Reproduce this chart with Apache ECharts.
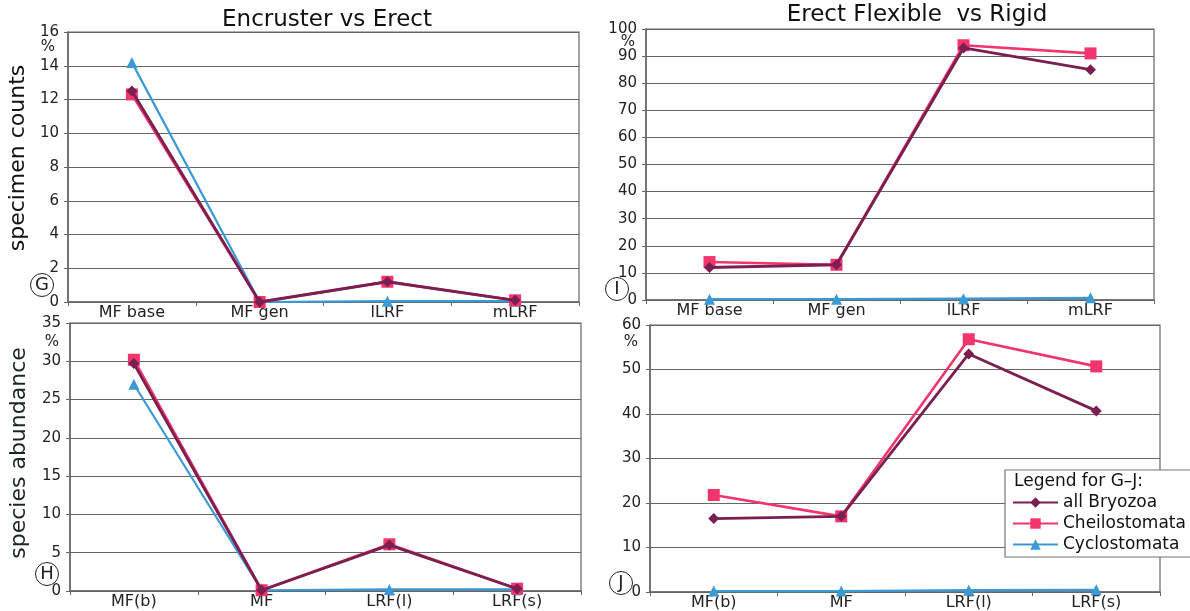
<!DOCTYPE html>
<html>
<head>
<meta charset="utf-8">
<script src="https://cdn.jsdelivr.net/npm/echarts@6/dist/echarts.min.js"></script>
<style>
  html, body { margin: 0; padding: 0; background: #fff; }
  #chart { width: 1190px; height: 611px; }
</style>
</head>
<body>
<div id="chart"></div>
<script>
// Growth-form categories (specimen counts on top, species abundance below)
const catsCounts = ['MF base', 'MF gen', 'lLRF', 'mLRF'];
const catsSpecies = ['MF(b)', 'MF', 'LRF(l)', 'LRF(s)'];

const seriesNames = ['all Bryozoa', 'Cheilostomata', 'Cyclostomata'];

// G: Encruster vs Erect, specimen counts (%)
const gBryozoa = [12.5, 0, 1.2, 0.1];
const gCheilo = [12.3, 0, 1.2, 0.1];
const gCyclo = [14.2, 0, 0.05, 0.05];

// I: Erect Flexible vs Rigid, specimen counts (%)
const iBryozoa = [12, 13, 93, 85];
const iCheilo = [14, 13, 94, 91];
const iCyclo = [0.3, 0.3, 0.5, 0.8];

// H: Encruster vs Erect, species abundance (%)
const hBryozoa = [29.7, 0.1, 6, 0.3];
const hCheilo = [30.2, 0.1, 6.1, 0.3];
const hCyclo = [27, 0.1, 0.2, 0.2];

// J: Erect Flexible vs Rigid, species abundance (%)
const jBryozoa = [16.5, 17, 53.5, 40.7];
const jCheilo = [21.8, 17, 56.8, 50.7];
const jCyclo = [0.2, 0.2, 0.4, 0.5];

// y-axis ranges per panel
const yG = { max: 16, step: 2 };
const yI = { max: 100, step: 10 };
const yH = { max: 35, step: 5 };
const yJ = { max: 60, step: 10 };

const colors = { bry: '#7a1f4f', che: '#f2356d', cyc: '#3a9ad6' };
const FONT = 'DejaVu Sans';

const grids = [
  { left: 68, top: 32, width: 511, height: 270 },
  { left: 646, top: 29, width: 508, height: 271 },
  { left: 70, top: 323, width: 511, height: 268 },
  { left: 650, top: 325, width: 510, height: 268 }
];

function xAxis(idx, cats) {
  return {
    type: 'category', gridIndex: idx, data: cats, boundaryGap: true,
    axisLine: { lineStyle: { color: '#666', width: 1.5 } },
    axisTick: { show: true, length: 4, lineStyle: { color: '#666' } },
    axisLabel: { color: '#222', fontFamily: FONT, fontSize: 16, margin: 3 }
  };
}
function yAxis(idx, r) {
  return {
    type: 'value', gridIndex: idx, min: 0, max: r.max, interval: r.step,
    axisLine: { show: true, lineStyle: { color: '#666', width: 1.5 } },
    axisTick: { show: true, length: 4, lineStyle: { color: '#666' } },
    axisLabel: { color: '#222', fontFamily: FONT, fontSize: 15, margin: 9 },
    splitLine: { show: true, lineStyle: { color: '#666', width: 1.2 } }
  };
}
function line(name, idx, data, color, symbol, width, z) {
  return {
    type: 'line', name, xAxisIndex: idx, yAxisIndex: idx, data,
    symbol, symbolSize: symbol === 'rect' ? 12 : 11,
    lineStyle: { color, width },
    itemStyle: { color },
    z, animation: false
  };
}
const panels = [
  [gBryozoa, gCheilo, gCyclo],
  [iBryozoa, iCheilo, iCyclo],
  [hBryozoa, hCheilo, hCyclo],
  [jBryozoa, jCheilo, jCyclo]
];
const series = [];
panels.forEach((p, i) => {
  series.push(line(seriesNames[2], i, p[2], colors.cyc, 'triangle', 2.2, 2));
  series.push(line(seriesNames[1], i, p[1], colors.che, 'rect', 2.6, 3));
  series.push(line(seriesNames[0], i, p[0], colors.bry, 'diamond', 2.8, 4));
});

function circled(letter, x, y) {
  return [
    { type: 'circle', shape: { cx: x, cy: y, r: 11.5 }, style: { fill: 'none', stroke: '#222', lineWidth: 1 }, z: 100 },
    { type: 'text', x: x, y: y, style: { text: letter, fill: '#222', font: '18px ' + FONT, align: 'center', verticalAlign: 'middle' }, z: 100 }
  ];
}
function pct(x, y) {
  return { type: 'text', x, y, style: { text: '%', fill: '#222', font: '15px ' + FONT, align: 'center', verticalAlign: 'middle' }, z: 100 };
}

const option = {
  backgroundColor: '#fff',
  animation: false,
  title: [
    { text: 'Encruster vs Erect', left: 322, top: 4, textAlign: 'center', textStyle: { fontFamily: FONT, fontSize: 23, fontWeight: 'normal', color: '#111' } },
    { text: 'Erect Flexible  vs Rigid', left: 912, top: -1, textAlign: 'center', textStyle: { fontFamily: FONT, fontSize: 23, fontWeight: 'normal', color: '#111' } }
  ],
  legend: {
    data: seriesNames,
    orient: 'vertical',
    left: 1012, top: 494,
    padding: 0,
    itemGap: 4,
    itemWidth: 45, itemHeight: 13,
    textStyle: { fontFamily: FONT, fontSize: 17, color: '#111' },
    z: 50
  },
  grid: grids.map(g => Object.assign({ show: true, borderColor: '#666', borderWidth: 1.2, backgroundColor: '#fff' }, g)),
  xAxis: [xAxis(0, catsCounts), xAxis(1, catsCounts), xAxis(2, catsSpecies), xAxis(3, catsSpecies)],
  yAxis: [yAxis(0, yG), yAxis(1, yI), yAxis(2, yH), yAxis(3, yJ)],
  series,
  graphic: [
    { type: 'text', x: 18, y: 158, rotation: Math.PI / 2, style: { text: 'specimen counts', fill: '#111', font: '22px ' + FONT, align: 'center', verticalAlign: 'middle' } },
    { type: 'text', x: 19, y: 453, rotation: Math.PI / 2, style: { text: 'species abundance', fill: '#1a2626', font: '22px ' + FONT, align: 'center', verticalAlign: 'middle' } },
    pct(48, 47), pct(628, 42), pct(52, 342), pct(631, 342),
    ...circled('G', 42, 285), ...circled('I', 617, 289), ...circled('H', 47, 574), ...circled('J', 621, 583),
    // legend frame and heading
    { type: 'rect', shape: { x: 1005, y: 470, width: 200, height: 87 }, style: { fill: '#fff', stroke: '#777', lineWidth: 1.2 }, z: 40 },
    { type: 'text', x: 1014, y: 482, style: { text: 'Legend for G–J:', fill: '#111', font: '17px ' + FONT, verticalAlign: 'middle' }, z: 41 }
  ]
};

const chart = echarts.init(document.getElementById('chart'), null, { renderer: 'canvas' });
chart.setOption(option);
</script>
</body>
</html>
